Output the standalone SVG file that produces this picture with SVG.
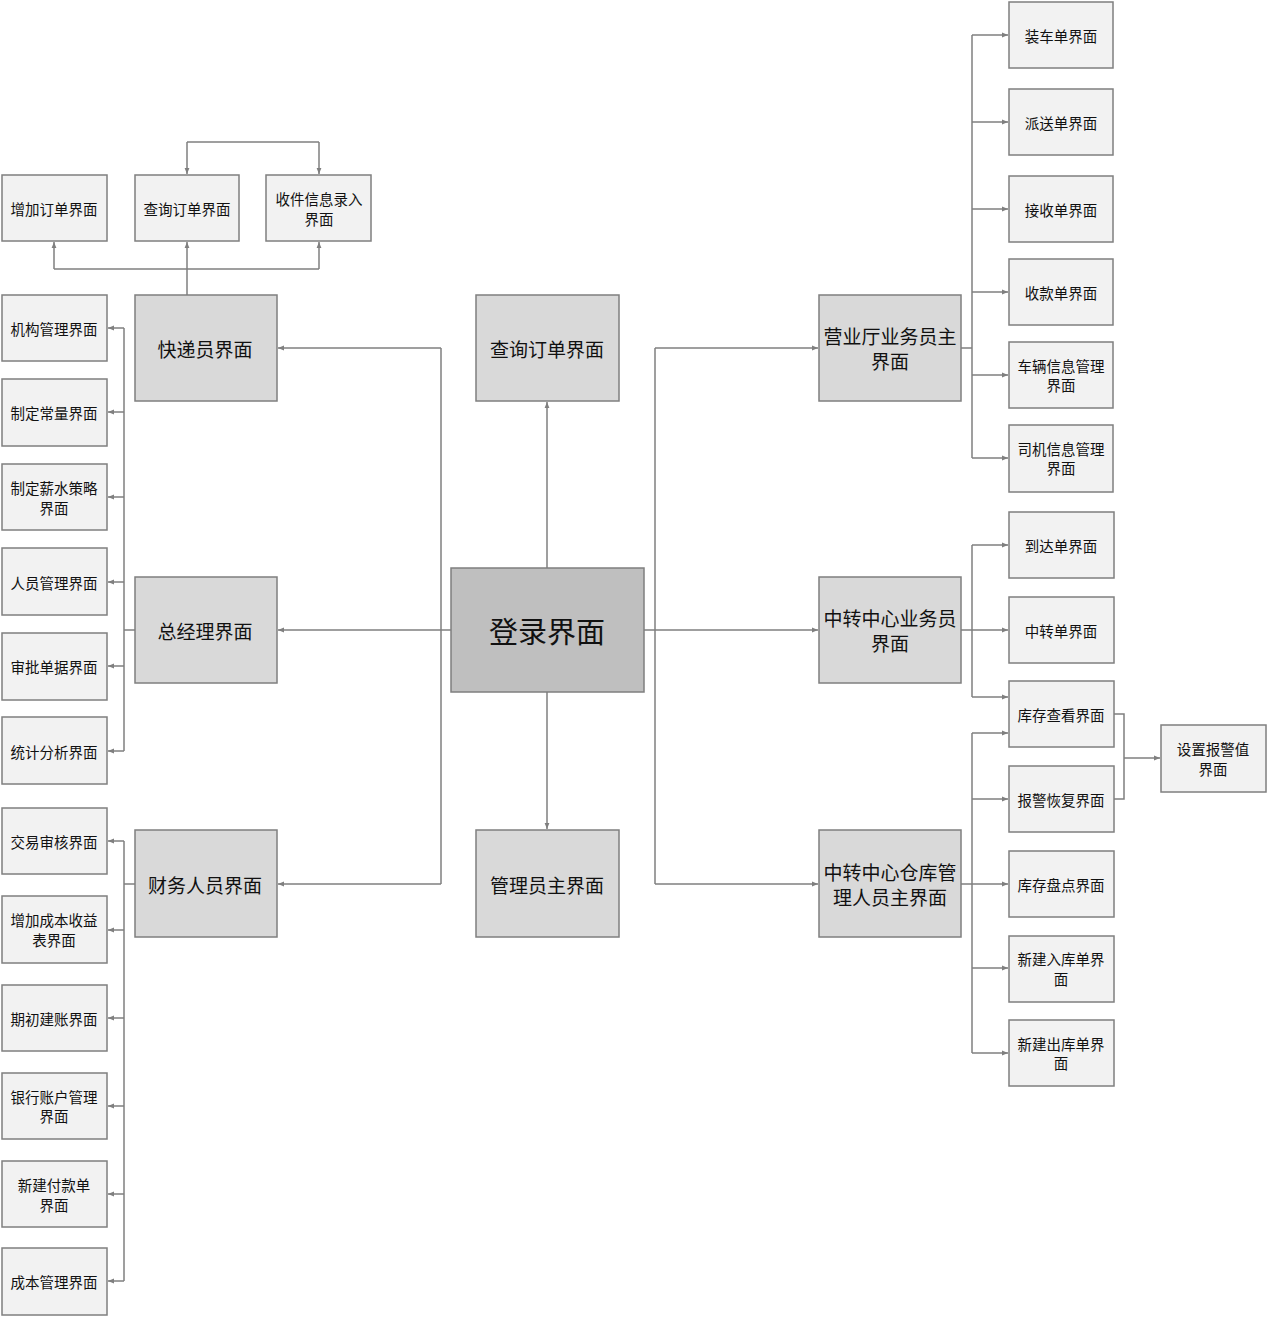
<svg xmlns="http://www.w3.org/2000/svg" width="1269" height="1319" viewBox="0 0 1269 1319">
<defs>
<marker id="ah" viewBox="0 0 8 8" refX="8" refY="4" markerWidth="6" markerHeight="6" markerUnits="userSpaceOnUse" orient="auto"><path d="M0,0.8 L8,4 L0,7.2 Z" fill="#7f7f7f"/></marker>
<style>
.s rect{fill:#f2f2f2;stroke:#7f7f7f;stroke-width:1.5}
.m rect{fill:#d9d9d9;stroke:#7f7f7f;stroke-width:1.5}
.l rect{fill:#bfbfbf;stroke:#7f7f7f;stroke-width:1.5}
text{font-family:"Noto Sans CJK SC","Noto Sans",sans-serif;fill:#111;text-anchor:middle;dominant-baseline:central}
.s text{font-size:14.5px}
.m text{font-size:19px}
.l text{font-size:29px}
.c path{fill:none;stroke:#7f7f7f;stroke-width:1.5}
.c .a{marker-end:url(#ah)}
</style>
</defs>
<rect width="1269" height="1319" fill="#ffffff"/>
<g class="c">
<!-- login connectors -->
<path d="M451,630 H441"/>
<path d="M441,348 V884"/>
<path class="a" d="M441,348 H278"/>
<path class="a" d="M441,630 H278"/>
<path class="a" d="M441,884 H278"/>
<path d="M644,630 H655"/>
<path d="M655,348 V884"/>
<path class="a" d="M655,348 H818"/>
<path class="a" d="M655,630 H818"/>
<path class="a" d="M655,884 H818"/>
<path class="a" d="M547,568 V402"/>
<path class="a" d="M547,692 V829"/>
<!-- courier -->
<path d="M187,295 V269"/>
<path d="M54,269 H319"/>
<path class="a" d="M54,269 V242"/>
<path class="a" d="M187,269 V242"/>
<path class="a" d="M319,269 V242"/>
<path d="M187,142 H319"/>
<path class="a" d="M187,142 V174"/>
<path class="a" d="M319,142 V174"/>
<!-- general manager -->
<path d="M135,630 H124"/>
<path d="M124,328 V751"/>
<path class="a" d="M124,328 H108"/>
<path class="a" d="M124,412 H108"/>
<path class="a" d="M124,497 H108"/>
<path class="a" d="M124,582 H108"/>
<path class="a" d="M124,666 H108"/>
<path class="a" d="M124,751 H108"/>
<!-- finance -->
<path d="M135,884 H124"/>
<path d="M124,841 V1281"/>
<path class="a" d="M124,841 H108"/>
<path class="a" d="M124,930 H108"/>
<path class="a" d="M124,1018 H108"/>
<path class="a" d="M124,1106 H108"/>
<path class="a" d="M124,1194 H108"/>
<path class="a" d="M124,1281 H108"/>
<!-- business hall -->
<path d="M961,348 H972"/>
<path d="M972,35 V458"/>
<path class="a" d="M972,35 H1008"/>
<path class="a" d="M972,122 H1008"/>
<path class="a" d="M972,209 H1008"/>
<path class="a" d="M972,292 H1008"/>
<path class="a" d="M972,375 H1008"/>
<path class="a" d="M972,458 H1008"/>
<!-- transfer center -->
<path d="M961,630 H972"/>
<path d="M972,545 V697"/>
<path class="a" d="M972,545 H1008"/>
<path class="a" d="M972,630 H1008"/>
<path class="a" d="M972,697 H1008"/>
<!-- warehouse -->
<path d="M961,884 H972"/>
<path d="M972,733 V1053"/>
<path class="a" d="M972,733 H1008"/>
<path class="a" d="M972,799 H1008"/>
<path class="a" d="M972,884 H1008"/>
<path class="a" d="M972,968 H1008"/>
<path class="a" d="M972,1053 H1008"/>
<!-- alarm -->
<path d="M1114,714 H1124 V799 H1114"/>
<path class="a" d="M1124,758 H1160"/>
</g>
<g id="login" class="l"><rect x="451" y="568" width="193" height="124"/><text x="547" y="630">登录界面</text></g>
<g id="query-main" class="m"><rect x="476" y="295" width="143" height="106"/><text x="547" y="348">查询订单界面</text></g>
<g id="admin" class="m"><rect x="476" y="830" width="143" height="107"/><text x="547" y="884">管理员主界面</text></g>
<g id="courier" class="m"><rect x="135" y="295" width="142" height="106"/><text x="205" y="348">快递员界面</text></g>
<g id="gm" class="m"><rect x="135" y="577" width="142" height="106"/><text x="205" y="630">总经理界面</text></g>
<g id="finance" class="m"><rect x="135" y="830" width="142" height="107"/><text x="205" y="884">财务人员界面</text></g>
<g id="hall" class="m"><rect x="819" y="295" width="142" height="106"/><text x="890" y="335">营业厅业务员主</text><text x="890" y="360">界面</text></g>
<g id="transfer" class="m"><rect x="819" y="577" width="142" height="106"/><text x="890" y="617">中转中心业务员</text><text x="890" y="642">界面</text></g>
<g id="warehouse" class="m"><rect x="819" y="830" width="142" height="107"/><text x="890" y="871">中转中心仓库管</text><text x="890" y="896">理人员主界面</text></g>
<g id="add-order" class="s"><rect x="2" y="175" width="105" height="66"/><text x="54" y="208">增加订单界面</text></g>
<g id="query-order" class="s"><rect x="135" y="175" width="104" height="66"/><text x="187" y="208">查询订单界面</text></g>
<g id="receive-info" class="s"><rect x="266" y="175" width="105" height="66"/><text x="319" y="198">收件信息录入</text><text x="319" y="218">界面</text></g>
<g id="org" class="s"><rect x="2" y="295" width="105" height="66"/><text x="54" y="328">机构管理界面</text></g>
<g id="const" class="s"><rect x="2" y="379" width="105" height="67"/><text x="54" y="412">制定常量界面</text></g>
<g id="salary" class="s"><rect x="2" y="464" width="105" height="66"/><text x="54" y="487">制定薪水策略</text><text x="54" y="507">界面</text></g>
<g id="staff" class="s"><rect x="2" y="548" width="105" height="67"/><text x="54" y="582">人员管理界面</text></g>
<g id="approve" class="s"><rect x="2" y="633" width="105" height="67"/><text x="54" y="666">审批单据界面</text></g>
<g id="stats" class="s"><rect x="2" y="717" width="105" height="67"/><text x="54" y="751">统计分析界面</text></g>
<g id="audit" class="s"><rect x="2" y="808" width="105" height="66"/><text x="54" y="841">交易审核界面</text></g>
<g id="cost-income" class="s"><rect x="2" y="896" width="105" height="67"/><text x="54" y="919">增加成本收益</text><text x="54" y="939">表界面</text></g>
<g id="init" class="s"><rect x="2" y="985" width="105" height="66"/><text x="54" y="1018">期初建账界面</text></g>
<g id="bank" class="s"><rect x="2" y="1073" width="105" height="66"/><text x="54" y="1096">银行账户管理</text><text x="54" y="1115">界面</text></g>
<g id="payment" class="s"><rect x="2" y="1161" width="105" height="66"/><text x="54" y="1184">新建付款单</text><text x="54" y="1204">界面</text></g>
<g id="cost" class="s"><rect x="2" y="1248" width="105" height="67"/><text x="54" y="1281">成本管理界面</text></g>
<g id="load" class="s"><rect x="1009" y="2" width="104" height="66"/><text x="1061" y="35">装车单界面</text></g>
<g id="dispatch" class="s"><rect x="1009" y="89" width="104" height="66"/><text x="1061" y="122">派送单界面</text></g>
<g id="accept" class="s"><rect x="1009" y="176" width="104" height="66"/><text x="1061" y="209">接收单界面</text></g>
<g id="collect" class="s"><rect x="1009" y="259" width="104" height="66"/><text x="1061" y="292">收款单界面</text></g>
<g id="vehicle" class="s"><rect x="1009" y="342" width="104" height="66"/><text x="1061" y="365">车辆信息管理</text><text x="1061" y="384">界面</text></g>
<g id="driver" class="s"><rect x="1009" y="425" width="104" height="67"/><text x="1061" y="448">司机信息管理</text><text x="1061" y="467">界面</text></g>
<g id="arrive" class="s"><rect x="1009" y="512" width="105" height="66"/><text x="1061" y="545">到达单界面</text></g>
<g id="transit" class="s"><rect x="1009" y="597" width="105" height="66"/><text x="1061" y="630">中转单界面</text></g>
<g id="stock-view" class="s"><rect x="1009" y="681" width="105" height="66"/><text x="1061" y="714">库存查看界面</text></g>
<g id="alarm-set" class="s"><rect x="1161" y="725" width="105" height="67"/><text x="1213" y="748">设置报警值</text><text x="1213" y="768">界面</text></g>
<g id="alarm-recover" class="s"><rect x="1009" y="766" width="105" height="66"/><text x="1061" y="799">报警恢复界面</text></g>
<g id="stocktake" class="s"><rect x="1009" y="851" width="105" height="66"/><text x="1061" y="884">库存盘点界面</text></g>
<g id="in-stock" class="s"><rect x="1009" y="936" width="105" height="66"/><text x="1061" y="958">新建入库单界</text><text x="1061" y="978">面</text></g>
<g id="out-stock" class="s"><rect x="1009" y="1020" width="105" height="66"/><text x="1061" y="1043">新建出库单界</text><text x="1061" y="1062">面</text></g>
</svg>
